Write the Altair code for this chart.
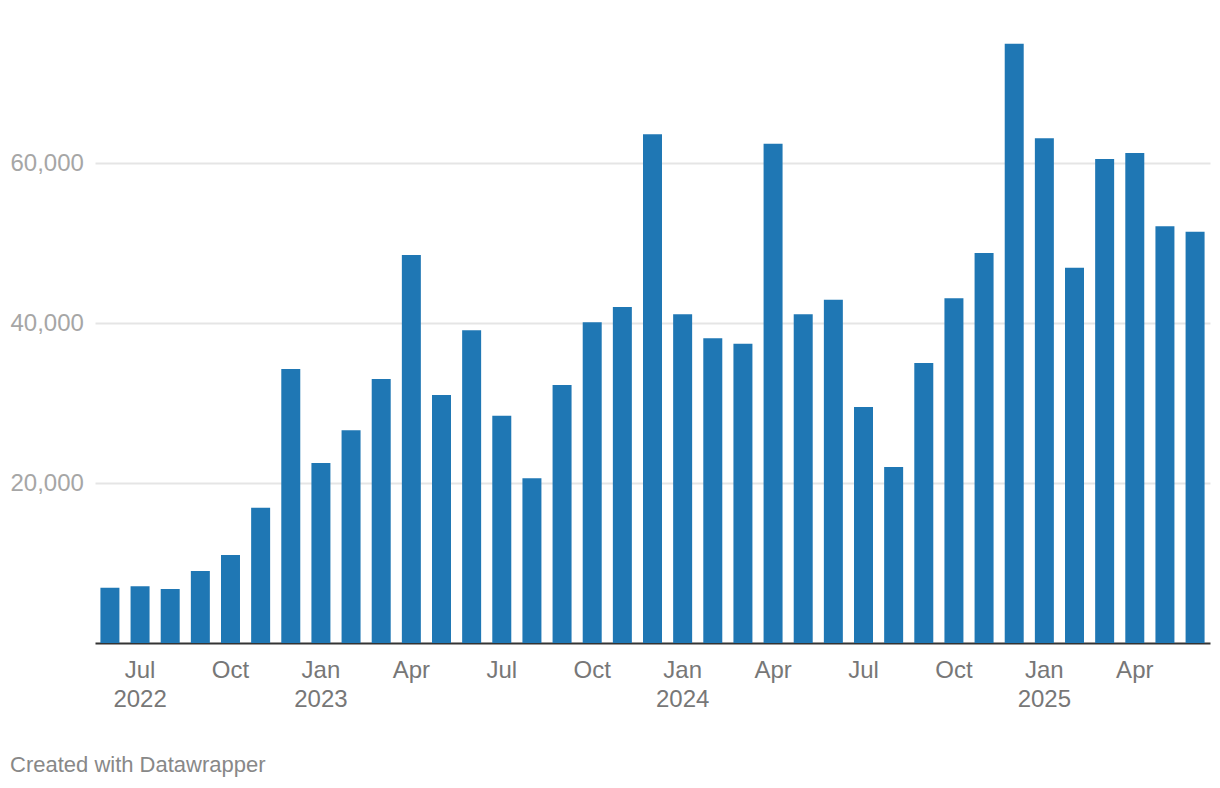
import altair as alt
import pandas as pd

months = [
    "2022-06", "2022-07", "2022-08", "2022-09", "2022-10", "2022-11", "2022-12",
    "2023-01", "2023-02", "2023-03", "2023-04", "2023-05", "2023-06", "2023-07",
    "2023-08", "2023-09", "2023-10", "2023-11", "2023-12",
    "2024-01", "2024-02", "2024-03", "2024-04", "2024-05", "2024-06", "2024-07",
    "2024-08", "2024-09", "2024-10", "2024-11", "2024-12",
    "2025-01", "2025-02", "2025-03", "2025-04", "2025-05", "2025-06",
]
values = [
    6900, 7100, 6750, 9000, 11000, 16900, 34250,
    22500, 26600, 33000, 48500, 31000, 39100, 28400,
    20600, 32250, 40100, 42000, 63600,
    41100, 38100, 37400, 62400, 41100, 42900, 29500,
    22000, 35000, 43100, 48750, 74900,
    63100, 46900, 60500, 61250, 52100, 51400,
]
tick_months = [m for m in months if m[5:] in ("01", "04", "07", "10")]
y_ticks = [20000, 40000, 60000]

df = pd.DataFrame({"month": months, "value": values})

label_expr = (
    "[{'01':'Jan','04':'Apr','07':'Jul','10':'Oct'}[slice(datum.value,5)], "
    "(slice(datum.value,5)=='01' || datum.value=='2022-07') ? slice(datum.value,0,4) : '']"
)

FONT = "Liberation Sans"

chart = (
    alt.Chart(df)
    .mark_bar(color="#1f77b4")
    .encode(
        x=alt.X(
            "month:O",
            sort=None,
            title=None,
            scale=alt.Scale(paddingInner=0.37, paddingOuter=0.18),
            axis=alt.Axis(
                values=tick_months,
                labelExpr=label_expr,
                labelAngle=0,
                ticks=False,
                domain=True,
                domainColor="#333333",
                domainWidth=2,
                labelColor="#777777",
                labelFont=FONT,
                labelFontSize=24,
                labelLineHeight=29,
                labelPadding=15,
                grid=False,
            ),
        ),
        y=alt.Y(
            "value:Q",
            title=None,
            scale=alt.Scale(domain=[0, 75000], nice=False),
            axis=alt.Axis(
                values=y_ticks,
                format=",.0f",
                ticks=False,
                tickSize=0,
                domain=False,
                grid=True,
                gridColor="#e5e5e5",
                gridWidth=2,
                labelAlign="left",
                labelBaseline="middle",
                labelPadding=85,
                labelColor="#a6a6a6",
                labelFont=FONT,
                labelFontSize=24,
            ),
        ),
    )
    .properties(
        width=1115,
        height=600,
        padding={"left": 2, "top": 35, "right": 2, "bottom": 5},
        title=alt.TitleParams(
            "Created with Datawrapper",
            orient="bottom",
            anchor="start",
            frame="bounds",
            font=FONT,
            fontSize=22,
            fontWeight="normal",
            color="#888888",
            offset=44,
        ),
    )
    .configure_view(stroke=None)
)

chart.save("out.html", embed_options={"renderer": "svg", "actions": False})
